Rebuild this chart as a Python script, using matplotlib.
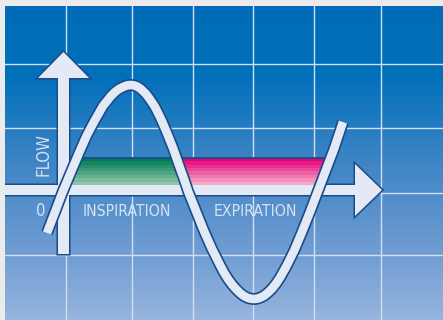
import numpy as np
import matplotlib
matplotlib.use('Agg')
import matplotlib.pyplot as plt
import matplotlib.patheffects as pe
from matplotlib.colors import LinearSegmentedColormap
from matplotlib.patches import FancyArrow, Polygon

plt.rcParams['font.family'] = ['DejaVu Sans Condensed', 'Liberation Sans Narrow', 'DejaVu Sans']
plt.rcParams['font.stretch'] = 'condensed'

# flow curve (image pixel units, y grows downward)
wave_x = [47, 55, 63, 71, 79, 87, 95, 99, 103, 107, 111, 115, 119, 123, 127, 131,
          134, 137, 140, 143, 146, 149, 152, 155, 158, 161, 164, 167, 170, 173, 176, 180, 184, 188,
          196, 204, 212, 220, 224, 228, 232, 236, 240, 244, 248, 251, 254,
          257, 260, 264, 268, 272, 276, 280, 286, 294, 302, 310, 318, 326, 334, 343]
wave_y = [233, 212, 191, 172, 153, 135, 120, 113, 106, 101, 96, 92, 89, 87, 85.4, 85,
          85.4, 86.5, 88.3, 91, 94, 98, 102.3, 107, 113, 119, 126, 133, 140.5, 148, 156.5, 168, 179, 191,
          211, 231, 249, 265, 272.6, 279, 284.5, 289, 293, 296, 298, 298.7, 299,
          298.7, 297.8, 295.8, 292.6, 288.6, 283.7, 277.7, 267, 251, 232, 212, 191, 170, 149, 122]

# the two phases shaded between the curve branches
phase_names = ['INSPIRATION', 'EXPIRATION']
phase_span = [(55, 196), (173, 334)]
phase_label_x = [83, 214]
phase_colors = [['#007a55', '#8cc6aa'], ['#e4007a', '#f6a9c6']]
band_top, band_bottom = 158, 185

grid_x = [66, 132, 193, 253, 314, 381]
grid_y = [64, 128, 193, 255]

bg_stops = [0.0, 0.22, 0.5, 0.78, 1.0]
bg_colors = ['#006cb8', '#0070ba', '#3f85c6', '#6f9cd2', '#96b4de']

NAVY = '#1a4c88'
PALE = '#e3e9f5'
TEXT = '#d6e1f2'

fig = plt.figure(figsize=(4.43, 3.2), dpi=100, facecolor='#ebebeb')
ax = fig.add_axes([5 / 443, 0, 438 / 443, 314 / 320])
x0, x1, y0, y1 = 5, 443, 320, 6

bg = LinearSegmentedColormap.from_list('bg', list(zip(bg_stops, bg_colors)))
ax.imshow(np.linspace(0, 1, 256)[:, None], cmap=bg, extent=(x0, x1, y0, y1),
          aspect='auto', origin='upper', zorder=0)

ax.set_xticks(grid_x)
ax.set_yticks(grid_y)
ax.set_axisbelow(True)
ax.grid(True, color='#d2dff2', lw=1.0)
ax.tick_params(length=0, labelbottom=False, labelleft=False)
for s in ax.spines.values():
    s.set_visible(False)

# axis arrows: outlines first, then fills so the two merge
v_arrow = dict(x=63.5, y=254, dx=0, dy=-202, width=11, head_width=51, head_length=26)
h_arrow = dict(x=1, y=190, dx=381, dy=0, width=10, head_width=52, head_length=27)
for kw in (v_arrow, h_arrow):
    ax.add_patch(FancyArrow(length_includes_head=True, fc=PALE, ec=NAVY, lw=2.2, zorder=2, **kw))
for kw in (v_arrow, h_arrow):
    ax.add_patch(FancyArrow(length_includes_head=True, fc=PALE, ec='none', zorder=2.1, **kw))

# striped bands clipped to the area between the curve branches
for (a, b), cols in zip(phase_span, phase_colors):
    pts = [(x, y) for x, y in zip(wave_x, wave_y) if a <= x <= b]
    clip = Polygon(pts, closed=True, transform=ax.transData)
    cm = LinearSegmentedColormap.from_list('band', cols, N=8)
    im = ax.imshow(np.linspace(0, 1, 8)[:, None], cmap=cm, extent=(a, b, band_bottom, band_top),
                   aspect='auto', origin='upper', interpolation='nearest', zorder=3)
    im.set_clip_path(clip)
    ln, = ax.plot([a, b], [band_top, band_top], color=NAVY, lw=1.3, zorder=3.1)
    ln.set_clip_path(clip)

# labels
ax.text(43, 154.5, 'FLOW', rotation=90, ha='center', va='center', color=TEXT, fontsize=12, zorder=3)
ax.text(41, 216, '0', ha='center', va='baseline', color=TEXT, fontsize=12, zorder=3)
for name, lx in zip(phase_names, phase_label_x):
    ax.text(lx, 216, name, ha='left', va='baseline', color=TEXT, fontsize=11.3, zorder=3)

# flow curve
ax.plot(wave_x, wave_y, color=PALE, lw=6.2, solid_capstyle='butt', solid_joinstyle='round', zorder=4,
        path_effects=[pe.Stroke(linewidth=8.6, foreground=NAVY), pe.Normal()])

ax.set_xlim(x0, x1)
ax.set_ylim(y0, y1)

fig.savefig('out.png', dpi=100, facecolor=fig.get_facecolor())
